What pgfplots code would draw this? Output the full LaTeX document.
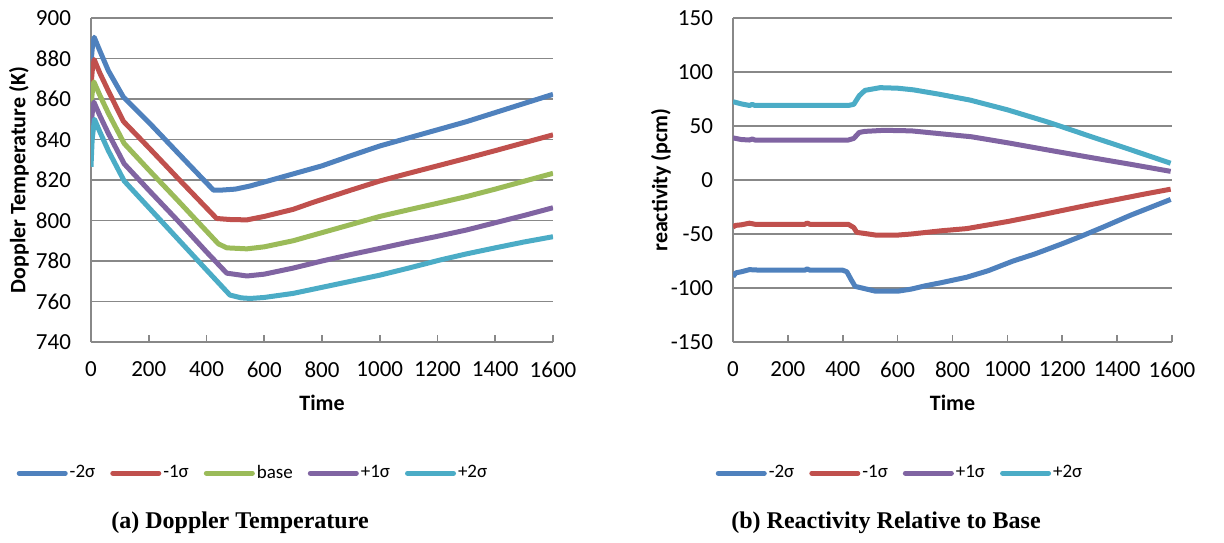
\documentclass[border=0pt]{standalone}
\usepackage{fontspec}
\setmainfont{Carlito}
\newfontfamily\capfont{Liberation Serif}
\usepackage{pgfplots}
\pgfplotsset{compat=1.18}

\definecolor{sBlue}{HTML}{4F81BD}
\definecolor{sRed}{HTML}{C0504D}
\definecolor{sGreen}{HTML}{9BBB59}
\definecolor{sPurple}{HTML}{8064A2}
\definecolor{sCyan}{HTML}{4BACC6}
\definecolor{gridGray}{HTML}{888888}

\pgfplotsset{
  excel/.style={
    scale only axis,
    height=162pt,
    xmin=0,xmax=1600,
    xtick={0,200,...,1600},
    axis lines*=left,
    axis line style={draw=gridGray,line width=0.8pt},
    ymajorgrids,
    grid style={draw=gridGray,line width=0.8pt},
    xtick align=inside,
    major tick length=3.5pt,
    xtick style={draw=gridGray,line width=0.8pt},
    ytick style={draw=none},
    /pgf/number format/assume math mode=true,
    /pgf/number format/1000 sep={},
    tick label style={font=\fontsize{11.5}{13}\selectfont},
    yticklabel style={xshift=-6.5pt},
    xticklabel style={yshift=-6.5pt},
    every axis x label/.style={at={(rel axis cs:0.5,0)},anchor=center,yshift=-30.5pt},
    every axis y label/.style={at={(rel axis cs:0,0.5)},anchor=center,rotate=90,yshift=36pt},
    label style={font=\fontsize{11}{13}\selectfont\bfseries},
    legend columns=-1,
    legend style={draw=none,fill=none,font=\fontsize{9.5}{12}\selectfont,
      nodes={inner xsep=1pt},
      /tikz/every even column/.append style={column sep=6.5pt}},
    legend image code/.code={\draw[##1,line cap=round] (0pt,0pt) -- (23pt,0pt);},
    every axis plot/.append style={line width=2.5pt,no markers,line join=round},
  }
}

\begin{document}
\begin{tikzpicture}
\path (0,0) rectangle (612pt,271pt);

% (a) Doppler temperature
\begin{axis}[excel,
  at={(45.5pt,262pt)},anchor=north west,
  width=231pt,
  ymin=740,ymax=900,ytick={740,760,...,900},
  xlabel={Time},ylabel={Doppler Temperature (K)},
  legend style={at={(rel axis cs:0.3506,-0.405)},anchor=center},
]
\addplot[sBlue] coordinates {(0,878)(5,886)(11,890.5)(30,884)(60,874)(112,861)(200,848.5)(300,833.5)(424,815)(450,815)(500,815.5)(550,817)(600,819)(700,823)(800,827)(900,832)(1000,836.8)(1100,840.8)(1200,844.8)(1300,848.8)(1400,853.3)(1500,857.8)(1600,862.3)};
\addlegendentry{-2σ}
\addplot[sRed] coordinates {(0,867)(5,875)(11,879.5)(30,873)(60,864)(112,849)(200,836)(300,821)(435,801)(480,800.5)(540,800.3)(600,802)(700,805.5)(770,809)(900,815)(1000,819.5)(1100,823.3)(1200,827)(1300,830.7)(1400,834.5)(1500,838.4)(1600,842.3)};
\addlegendentry{-1σ}
\addplot[sGreen] coordinates {(0,857)(5,864)(10,868.5)(30,862)(60,853)(115,838)(200,825)(300,810)(441,788.5)(470,786.5)(540,786)(600,787)(700,790)(800,794)(900,798)(1000,802)(1100,805.3)(1200,808.5)(1300,811.8)(1400,815.5)(1500,819.4)(1600,823.3)};
\addlegendentry{base}
\addplot[sPurple] coordinates {(0,847)(5,854)(10,858.5)(30,852)(60,843)(115,828)(200,815)(300,800)(400,784.5)(470,774)(540,772.6)(600,773.5)(700,776.5)(800,780)(900,783.2)(1000,786.2)(1100,789.3)(1200,792.2)(1300,795.3)(1400,798.9)(1500,802.5)(1600,806.3)};
\addlegendentry{+1σ}
\addplot[sCyan] coordinates {(0,826.5)(4,840)(12,850)(30,844)(60,834.5)(115,819.5)(200,806.4)(300,791)(400,775.6)(481,763.2)(520,761.8)(551,761.5)(600,762)(700,764)(800,767)(900,770)(1000,773)(1100,776.5)(1209,780.5)(1300,783.5)(1400,786.5)(1500,789.4)(1600,792)};
\addlegendentry{+2σ}
\end{axis}
\node[font=\capfont\fontsize{12}{14}\selectfont\bfseries] at (120pt,9.5pt) {(a) Doppler Temperature};

% (b) Reactivity relative to base
\begin{axis}[excel,
  at={(366.5pt,262pt)},anchor=north west,
  width=219.5pt,
  ymin=-150,ymax=150,ytick={-150,-100,...,150},
  xlabel={Time},ylabel={reactivity (pcm)},
  legend style={at={(rel axis cs:0.3804,-0.405)},anchor=center},
]
\addplot[sBlue] coordinates {(0,-89.5)(10,-86)(30,-85)(60,-83)(100,-83.5)(200,-83.5)(262,-83.5)(270,-82.3)(280,-83.5)(400,-83.5)(415,-85)(430,-92)(445,-98.5)(470,-100)(520,-103)(600,-103)(650,-101)(700,-98)(760,-95)(852,-90)(930,-84)(1021,-75)(1100,-68.5)(1200,-59)(1265,-52.5)(1350,-43.5)(1450,-32.5)(1595,-18)};
\addlegendentry{-2σ}
\addplot[sRed] coordinates {(0,-43.5)(10,-42)(30,-41.5)(60,-40)(80,-41)(262,-41)(270,-39.8)(280,-41)(420,-41)(440,-44)(451,-48.5)(480,-49.5)(520,-51)(600,-51)(650,-50)(760,-47)(852,-45)(920,-42)(1000,-38.5)(1100,-33.5)(1204,-28)(1300,-23)(1400,-18)(1500,-13)(1595,-8.5)};
\addlegendentry{-1σ}
\addplot[sPurple] coordinates {(0,39)(30,37.5)(60,37)(70,38)(80,37)(420,37)(440,38.5)(460,44)(480,45)(550,46)(650,45.5)(750,43)(870,40)(1000,34.5)(1143,28)(1300,21)(1450,14.5)(1595,8)};
\addlegendentry{+1σ}
\addplot[sCyan] coordinates {(0,72.5)(30,70.5)(60,69)(70,70)(80,69)(420,69)(440,70)(460,78)(481,83)(536,85.5)(600,85)(657,83.5)(750,79.5)(864,74)(1000,65)(1143,54)(1200,49.2)(1300,40.6)(1400,32.2)(1500,23.7)(1595,15.5)};
\addlegendentry{+2σ}
\end{axis}
\node[font=\capfont\fontsize{12}{14}\selectfont\bfseries] at (443pt,9.5pt) {(b) Reactivity Relative to Base};
\end{tikzpicture}
\end{document}
